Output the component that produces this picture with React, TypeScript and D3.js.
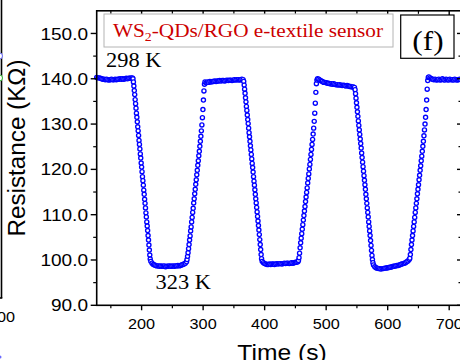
import React from 'react';
import * as d3 from 'd3';

// ---- data: measured segments (time in s, resistance in kΩ) ----
// [start time, end time] of each segment, in order
const segmentSpans: [number, number][] = [
  [127, 185], [186, 214], [215, 271], [273, 303], [305, 365], [366, 395],
  [396, 454], [455, 485], [486, 546], [547, 576], [577, 635], [636, 666], [667, 719],
];

const plateau1 = [140.3, 140.2, 140.2, 140.1, 140.0, 139.9, 139.9, 139.8, 139.9, 139.8, 139.7, 139.8, 139.9, 139.8, 139.8, 139.9, 139.8, 139.9, 139.9, 140.0, 139.9, 140.0, 139.9, 140.0, 140.1, 140.0, 140.1, 140.1, 140.2, 140.2];
const fall1 = [140.0, 139.3, 138.4, 137.4, 136.5, 135.4, 134.5, 133.5, 132.4, 131.5, 130.5, 129.4, 128.5, 127.5, 126.4, 125.5, 124.5, 123.4, 122.5, 121.4, 120.5, 119.5, 118.4, 117.5, 116.5, 115.4, 114.5, 113.4, 112.5, 111.5, 110.4, 109.5, 108.4, 107.5, 106.5, 105.4, 104.4, 103.3, 102.2, 101.1, 100.2];
const bottom1 = [99.7, 99.3, 99.0, 98.9, 98.8, 98.7, 98.7, 98.6, 98.7, 98.6, 98.6, 98.7, 98.5, 98.6, 98.6, 98.7, 98.6, 98.6, 98.7, 98.6, 98.7, 98.7, 98.8, 98.7, 98.8, 98.9, 99.0, 99.1, 99.3];
const rise1 = [99.6, 100.1, 100.8, 101.6, 102.5, 103.4, 104.4, 105.3, 106.4, 107.3, 108.4, 109.4, 110.5, 111.4, 112.6, 113.5, 114.6, 115.6, 116.7, 117.7, 118.8, 119.8, 120.9, 121.9, 123.0, 124.0, 125.1, 126.2, 127.3, 128.5, 129.8, 131.4, 133.2, 135.3, 137.3, 138.8, 139.3];
const plateau2 = [139.1, 139.3, 139.2, 139.4, 139.3, 139.4, 139.4, 139.5, 139.4, 139.5, 139.5, 139.6, 139.5, 139.6, 139.6, 139.5, 139.6, 139.7, 139.6, 139.7, 139.7, 139.6, 139.7, 139.8, 139.7, 139.8, 139.8, 139.7, 139.8, 139.9, 139.8];
const fall2 = [139.4, 138.6, 137.7, 136.8, 135.8, 134.9, 133.9, 133.0, 132.0, 131.0, 130.1, 129.1, 128.1, 127.2, 126.2, 125.2, 124.3, 123.3, 122.3, 121.3, 120.4, 119.4, 118.4, 117.4, 116.5, 115.5, 114.5, 113.5, 112.6, 111.6, 110.6, 109.6, 108.6, 107.6, 106.6, 105.6, 104.5, 103.4, 102.3, 101.2, 100.3];
const bottom2 = [99.7, 99.4, 99.2, 99.1, 99.0, 99.0, 99.1, 99.0, 99.1, 99.1, 99.0, 99.1, 99.2, 99.1, 99.2, 99.2, 99.1, 99.2, 99.3, 99.2, 99.3, 99.3, 99.2, 99.3, 99.4, 99.3, 99.4, 99.5, 99.5, 99.6];
const rise2 = [99.9, 100.5, 101.5, 102.7, 103.8, 104.8, 105.8, 106.8, 107.8, 108.8, 109.8, 110.8, 111.8, 112.9, 113.9, 114.9, 115.9, 117.0, 118.0, 119.0, 120.1, 121.1, 122.2, 123.3, 124.4, 125.5, 126.6, 127.8, 129.1, 130.6, 132.4, 134.6, 137.0, 138.9, 139.7];
const plateau3 = [140.0, 139.9, 139.7, 139.5, 139.4, 139.2, 139.2, 139.1, 139.0, 139.0, 138.9, 138.9, 138.8, 138.9, 138.8, 138.7, 138.7, 138.6, 138.7, 138.6, 138.5, 138.6, 138.5, 138.4, 138.5, 138.4, 138.3, 138.3, 138.2, 138.2, 138.1];
const fall3 = [137.6, 136.7, 135.7, 134.7, 133.7, 132.7, 131.7, 130.7, 129.7, 128.7, 127.7, 126.7, 125.7, 124.7, 123.6, 122.6, 121.6, 120.6, 119.6, 118.6, 117.6, 116.6, 115.6, 114.5, 113.5, 112.5, 111.5, 110.5, 109.5, 108.4, 107.4, 106.4, 105.4, 104.3, 103.2, 102.1, 101.0, 100.1, 99.4];
const bottom3 = [98.9, 98.5, 98.3, 98.2, 98.1, 98.1, 98.0, 98.1, 98.1, 98.2, 98.2, 98.3, 98.3, 98.4, 98.4, 98.5, 98.6, 98.6, 98.7, 98.8, 98.8, 98.9, 99.0, 99.1, 99.2, 99.3, 99.4, 99.6, 99.8, 100.1];
const rise3 = [100.4, 101.2, 102.3, 103.4, 104.4, 105.4, 106.4, 107.4, 108.4, 109.4, 110.5, 111.5, 112.5, 113.5, 114.6, 115.6, 116.6, 117.7, 118.7, 119.8, 120.8, 121.9, 122.9, 124.0, 125.1, 126.2, 127.4, 128.7, 130.0, 131.5, 133.2, 135.3, 137.7, 139.6, 140.3];
const plateau4 = [140.4, 140.2, 140.0, 139.9, 139.8, 139.9, 139.7, 139.8, 139.9, 139.7, 139.8, 140.0, 139.8, 139.7, 139.9, 139.8, 139.7, 139.9, 139.8, 139.8, 139.7, 139.9, 139.8, 139.7, 139.8, 139.9, 139.8];

const segmentValues = [plateau1, fall1, bottom1, rise1, plateau2, fall2, bottom2, rise2, plateau3, fall3, bottom3, rise3, plateau4];

const xMajorTicks = [200, 300, 400, 500, 600, 700];
const xMinorTicks = [150, 250, 350, 450, 550, 650];
const yMajorTicks = [90, 100, 110, 120, 130, 140, 150];
const yMinorTicks = [95, 105, 115, 125, 135, 145];

const xTitle = 'Time (s)';
const yTitle = 'Resistance (KΩ)';
const sensorLabel = ['WS', '2', '-QDs/RGO e-textile sensor'];
const highLabel = '298 K';
const lowLabel = '323 K';
const panelLabel = '(f)';

const W = 460;
const H = 360;
const SANS = 'Liberation Sans, Arial, Helvetica, sans-serif';
const SERIF = 'Liberation Serif, DejaVu Serif, Times New Roman, serif';
const BLUE = '#0000ff';
const SX = 1.12;

export default function App() {
  const x = d3.scaleLinear().domain([127, 720]).range([96.7, 461.5]);
  const y = d3.scaleLinear().domain([90, 155]).range([305.3, 10.8]);

  const points: { t: number; r: number }[] = [];
  segmentValues.forEach((vals, i) => {
    const [t0, t1] = segmentSpans[i];
    const step = vals.length > 1 ? (t1 - t0) / (vals.length - 1) : 0;
    vals.forEach((r, j) => points.push({ t: t0 + j * step, r }));
  });

  const [x0, x1] = x.range();
  const [yb, yt] = y.range();
  const fmtY = d3.format('.1f');

  return (
    <svg width={W} height={H} style={{ position: 'absolute', left: 0, top: 0, background: '#fff' }}>
      <rect x={0} y={0} width={W} height={H} fill="#fff" />

      {/* remnant of neighbouring panel on the left */}
      <line x1={1.5} y1={0} x2={1.5} y2={298} stroke="#000" strokeWidth={1.6} />
      <line x1={0} y1={298} x2={2.3} y2={298} stroke="#000" strokeWidth={1.6} />
      <g transform={`translate(15,322) scale(${SX},1)`}>
        <text textAnchor="end" fontFamily={SANS} fontSize={14.5} fill="#000">00</text>
      </g>
      <circle cx={-0.5} cy={56} r={3} fill="#fff" stroke="#6a6aff" strokeWidth={1} />
      <circle cx={-0.5} cy={78} r={3} fill="#fff" stroke="#33bb33" strokeWidth={1} />
      <circle cx={0} cy={357} r={1.5} fill="#6a6aff" />

      {/* data markers */}
      <g>
        {points.map((p, i) => (
          <circle key={i} cx={x(p.t)} cy={y(p.r)} r={2.05} fill="#fff" stroke={BLUE} strokeWidth={1.35} />
        ))}
      </g>

      {/* frame */}
      <rect x={x0} y={yt} width={x1 - x0} height={yb - yt} fill="none" stroke="#000" strokeWidth={1.6} />

      {/* bottom axis ticks (outward) & top ticks (inward) */}
      {xMajorTicks.map((t) => (
        <g key={'xM' + t}>
          <line x1={x(t)} x2={x(t)} y1={yb} y2={yb + 5} stroke="#000" strokeWidth={1.4} />
          <line x1={x(t)} x2={x(t)} y1={yt} y2={yt + 4.5} stroke="#000" strokeWidth={1.4} />
          <g transform={`translate(${x(t)},${328.5}) scale(${SX},1)`}>
            <text textAnchor="middle" fontFamily={SANS} fontSize={14.5} fill="#000">{t}</text>
          </g>
        </g>
      ))}
      {xMinorTicks.map((t) => (
        <g key={'xm' + t}>
          <line x1={x(t)} x2={x(t)} y1={yb} y2={yb + 3} stroke="#000" strokeWidth={1.2} />
          <line x1={x(t)} x2={x(t)} y1={yt} y2={yt + 3} stroke="#000" strokeWidth={1.2} />
        </g>
      ))}

      {/* left ticks (outward) & right ticks (inward) */}
      {yMajorTicks.map((v) => (
        <g key={'yM' + v}>
          <line x1={x0 - 6} x2={x0} y1={y(v)} y2={y(v)} stroke="#000" strokeWidth={1.4} />
          <line x1={x1 - 4.5} x2={x1} y1={y(v)} y2={y(v)} stroke="#000" strokeWidth={1.4} />
          <g transform={`translate(${88},${y(v) + 6.1}) scale(${SX},1)`}>
            <text textAnchor="end" fontFamily={SANS} fontSize={17} fill="#000">{fmtY(v)}</text>
          </g>
        </g>
      ))}
      {yMinorTicks.map((v) => (
        <g key={'ym' + v}>
          <line x1={x0 - 3.5} x2={x0} y1={y(v)} y2={y(v)} stroke="#000" strokeWidth={1.2} />
          <line x1={x1 - 3} x2={x1} y1={y(v)} y2={y(v)} stroke="#000" strokeWidth={1.2} />
        </g>
      ))}

      {/* axis titles */}
      <g transform={`translate(282,359.7) scale(${SX},1)`}>
        <text textAnchor="middle" fontFamily={SANS} fontSize={22} fill="#000">{xTitle}</text>
      </g>
      <g transform={`translate(25,148) scale(${SX},1) rotate(-90)`}>
        <text textAnchor="middle" fontFamily={SANS} fontSize={21} fill="#000" textLength={177} lengthAdjust="spacingAndGlyphs">{yTitle}</text>
      </g>

      {/* sensor label box */}
      <rect x={104} y={14} width={289} height={33} fill="#fff" stroke="#b4b4b4" strokeWidth={1} />
      <text x={113} y={37.3} fontFamily={SERIF} fontSize={18.5} fill="#cc0000" textLength={270} lengthAdjust="spacingAndGlyphs">
        {sensorLabel[0]}
        <tspan fontSize={12} dy={3.5}>{sensorLabel[1]}</tspan>
        <tspan dy={-3.5}>{sensorLabel[2]}</tspan>
      </text>

      {/* temperature labels */}
      <g transform={`translate(106,66.7) scale(${SX},1)`}>
        <text fontFamily={SERIF} fontSize={20} fill="#000">{highLabel}</text>
      </g>
      <g transform={`translate(155.5,289.3) scale(${SX},1)`}>
        <text fontFamily={SERIF} fontSize={20} fill="#000">{lowLabel}</text>
      </g>

      {/* panel label */}
      <rect x={400.7} y={15} width={53.3} height={43.3} fill="#fff" stroke="#000" strokeWidth={1.2} />
      <g transform={`translate(428,50) scale(${SX},1)`}>
        <text textAnchor="middle" fontFamily={SERIF} fontSize={28} fill="#000">{panelLabel}</text>
      </g>
    </svg>
  );
}
